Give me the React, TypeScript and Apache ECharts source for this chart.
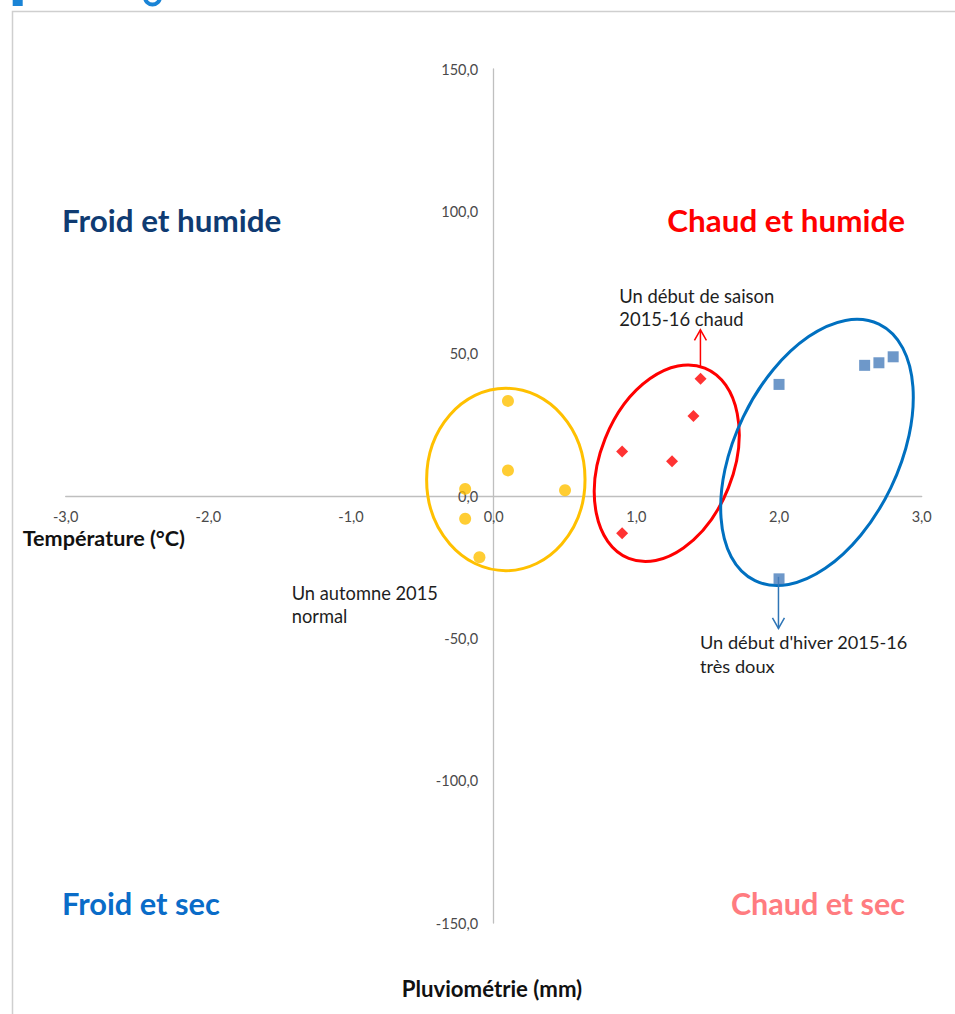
import React, { useEffect, useRef } from "react";
import * as echarts from "echarts";

// ---- Data (temperature anomaly °C on x, rainfall anomaly mm on y) ----
const xTicks = [-3, -2, -1, 0, 1, 2, 3];
const yTicks = [-150, -100, -50, 0, 50, 100, 150];

const autumn2015 = [
  [0.1, 33.4],
  [0.1, 9.0],
  [-0.2, 2.5],
  [0.5, 2.0],
  [-0.2, -8.0],
  [-0.1, -21.5],
];
const seasonStart = [
  [1.45, 41.2],
  [1.4, 28.1],
  [0.9, 15.6],
  [1.25, 12.2],
  [0.9, -13.1],
];
const winterStart = [
  [2.0, 39.2],
  [2.6, 45.9],
  [2.7, 46.8],
  [2.8, 48.9],
  [2.0, -29.1],
];

// group ellipse centres (data coords)
const ellipseCenters = [
  [0.085, 5.8],
  [1.213, 11.5],
  [2.266, 15.3],
];
// annotation arrows: from -> to (data coords)
const arrowSegments = [
  [1.449, 45.5, 1.449, 58.4],
  [1.996, -28.4, 1.996, -46.5],
];

// ---- Styles ----
const FONT = "Lato";
const ELLIPSE_STYLES = [
  { rx: 79.2, ry: 91.2, angle: 0, color: "#ffc000" },
  { rx: 102.5, ry: 66.4, angle: 68.2, color: "#ff0000" },
  { rx: 142.5, ry: 81.9, angle: 64.2, color: "#0070c0" },
];
const ARROW_COLORS = ["#ff0000", "#2e75b6"];

const fmt = (v: number) => v.toFixed(1).replace(".", ",");

function txt(
  text: string,
  x: number,
  y: number,
  size: number,
  color: string,
  bold = false,
  align: "left" | "right" | "center" = "left"
) {
  return {
    type: "text",
    silent: true,
    z: 10,
    style: {
      text,
      x,
      y,
      fill: color,
      fontSize: size,
      fontFamily: FONT,
      fontWeight: bold ? "bold" : "normal",
      align,
      verticalAlign: "middle",
      textAlign: align,
      textVerticalAlign: "middle",
    },
  };
}

export default function App() {
  const ref = useRef<HTMLDivElement>(null);

  useEffect(() => {
    if (!ref.current) return;
    const chart = echarts.init(ref.current, null, { renderer: "svg" });

    const axisCommon = {
      type: "value" as const,
      axisTick: { show: false },
      splitLine: { show: false },
      axisLine: { onZero: false, lineStyle: { color: "#bfbfbf", width: 1.3 } },
    };

    chart.setOption({
      animation: false,
      backgroundColor: "#ffffff",
      grid: { left: 65.7, right: 33.3, top: 69, bottom: 91, containLabel: false },
      xAxis: {
        ...axisCommon,
        min: xTicks[0],
        max: xTicks[xTicks.length - 1],
        interval: 1,
        axisLabel: {
          margin: 13,
          color: "#4a4a4a",
          fontSize: 14.5,
          fontFamily: FONT,
          formatter: (v: number) => fmt(v),
          showMinLabel: true,
          showMaxLabel: true,
        },
      },
      yAxis: {
        ...axisCommon,
        min: yTicks[0],
        max: yTicks[yTicks.length - 1],
        interval: 50,
        axisLabel: {
          margin: 15.5,
          color: "#4a4a4a",
          fontSize: 14.5,
          fontFamily: FONT,
          formatter: (v: number) => fmt(v),
          showMinLabel: true,
          showMaxLabel: true,
        },
      },
      series: [
        {
          type: "custom",
          name: "groupes",
          silent: true,
          z: 1,
          data: ellipseCenters,
          encode: { x: 0, y: 1 },
          renderItem: (params: any, api: any) => {
            const st = ELLIPSE_STYLES[params.dataIndex];
            const c = api.coord([api.value(0), api.value(1)]);
            return {
              type: "ellipse",
              x: c[0],
              y: c[1],
              rotation: (st.angle * Math.PI) / 180,
              shape: { cx: 0, cy: 0, rx: st.rx, ry: st.ry },
              style: { fill: "none", stroke: st.color, lineWidth: 3 },
            };
          },
        },
        {
          type: "custom",
          name: "flèches",
          silent: true,
          z: 1,
          data: arrowSegments,
          encode: { x: [0, 2], y: [1, 3] },
          renderItem: (params: any, api: any) => {
            const color = ARROW_COLORS[params.dataIndex];
            const p1 = api.coord([api.value(0), api.value(1)]);
            const p2 = api.coord([api.value(2), api.value(3)]);
            const dx = p2[0] - p1[0];
            const dy = p2[1] - p1[1];
            const len = Math.sqrt(dx * dx + dy * dy) || 1;
            const ux = dx / len;
            const uy = dy / len;
            const back = 10.5;
            const half = 6;
            const l = [p2[0] - ux * back - uy * half, p2[1] - uy * back + ux * half];
            const r = [p2[0] - ux * back + uy * half, p2[1] - uy * back - ux * half];
            return {
              type: "group",
              children: [
                {
                  type: "line",
                  shape: { x1: p1[0], y1: p1[1], x2: p2[0], y2: p2[1] },
                  style: { stroke: color, lineWidth: 1.5 },
                },
                {
                  type: "polyline",
                  shape: { points: [l, p2, r] },
                  style: { stroke: color, lineWidth: 1.5, fill: "none" },
                },
              ],
            };
          },
        },
        {
          type: "scatter",
          name: "Automne 2015",
          z: 3,
          symbol: "circle",
          symbolSize: 12,
          itemStyle: { color: "#ffc000" },
          data: autumn2015,
        },
        {
          type: "scatter",
          name: "Début de saison 2015-16",
          z: 3,
          symbol: "diamond",
          symbolSize: 12,
          itemStyle: { color: "#ff0000" },
          data: seasonStart,
        },
        {
          type: "scatter",
          name: "Début d'hiver 2015-16",
          z: 3,
          symbol: "rect",
          symbolSize: 11,
          itemStyle: { color: "#4a7ebb" },
          data: winterStart,
        },
      ],
      graphic: [
        // frame of the chart area
        {
          type: "rect",
          silent: true,
          z: 0,
          shape: { x: 12.5, y: 11.5, width: 960, height: 1020 },
          style: { fill: "none", stroke: "#cfcfcf", lineWidth: 1.5 },
        },
        // cut-off title remnants at the very top
        {
          type: "rect",
          silent: true,
          shape: { x: 12.7, y: 0, width: 10, height: 6 },
          style: { fill: "#1a84d6" },
        },
        {
          type: "arc",
          silent: true,
          shape: { cx: 152.5, cy: -3, r: 7.5, startAngle: 0, endAngle: Math.PI },
          style: { stroke: "#1a84d6", lineWidth: 4, fill: "none" },
        },
        // quadrant labels
        txt("Froid et humide", 62, 220, 31.4, "#0f3b72", true, "left"),
        txt("Chaud et humide", 905, 220, 31.4, "#ff0000", true, "right"),
        txt("Froid et sec", 62, 903, 30.8, "#0a6cc8", true, "left"),
        txt("Chaud et sec", 905, 903, 30.5, "#ff7c80", true, "right"),
        // axis titles
        txt("Température (°C)", 22.7, 538, 21.6, "#111111", true, "left"),
        txt("Pluviométrie (mm)", 492, 988, 22.2, "#111111", true, "center"),
        // annotations
        txt("Un début de saison", 619.3, 296, 18.4, "#1e1e1e"),
        txt("2015-16 chaud", 619.3, 319.3, 18.4, "#1e1e1e"),
        txt("Un automne 2015", 291.7, 592.7, 18.3, "#1e1e1e"),
        txt("normal", 291.7, 616, 18.3, "#1e1e1e"),
        txt("Un début d'hiver 2015-16", 700, 641.7, 18.2, "#1e1e1e"),
        txt("très doux", 700, 666, 18.2, "#1e1e1e"),
      ],
    });

    // Put both axes (line + labels) through the origin, as in the reference.
    const zeroX = chart.convertToPixel({ xAxisIndex: 0 }, 0) as number;
    const leftX = chart.convertToPixel({ xAxisIndex: 0 }, xTicks[0]) as number;
    const zeroY = chart.convertToPixel({ yAxisIndex: 0 }, 0) as number;
    const bottomY = chart.convertToPixel({ yAxisIndex: 0 }, yTicks[0]) as number;
    chart.setOption({
      xAxis: { offset: -(bottomY - zeroY) },
      yAxis: { offset: -(zeroX - leftX) },
    });

    return () => chart.dispose();
  }, []);

  return (
    <div
      ref={ref}
      style={{ position: "absolute", left: 0, top: 0, width: 955, height: 1014, background: "#fff" }}
    />
  );
}
